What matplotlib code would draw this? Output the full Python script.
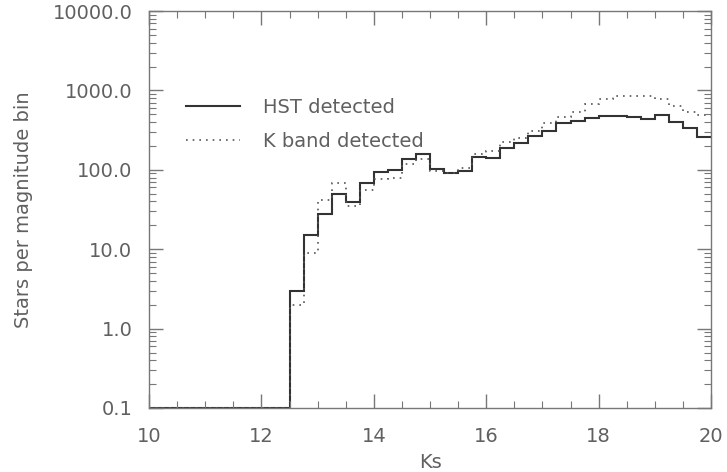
import numpy as np
import matplotlib
matplotlib.use("Agg")
import matplotlib.pyplot as plt
from matplotlib.ticker import FixedLocator, LogLocator, NullFormatter, MultipleLocator

# Bin edges (Ks magnitude, 0.25 mag bins from 10 to 20)
bin_edges = np.arange(10.0, 20.0001, 0.25)

# Stars per magnitude bin (floor 0.1 where empty)
hst_counts = [0.1] * 10 + [
    3, 15, 28, 50, 39, 68, 94, 100, 137, 158,
    102, 92, 97, 146, 140, 187, 216, 269, 311, 392,
    410, 453, 478, 476, 459, 440, 490, 396, 333, 261,
]
kband_counts = [0.1] * 10 + [
    2, 9, 42, 69, 35, 55, 76, 80, 117, 135,
    97, 90, 106, 158, 174, 222, 249, 311, 392, 459,
    530, 669, 773, 850, 857, 857, 780, 643, 530, 494,
]

x_ticks = [10, 12, 14, 16, 18, 20]
y_ticks = [0.1, 1, 10, 100, 1000, 10000]
y_ticklabels = ["0.1", "1.0", "10.0", "100.0", "1000.0", "10000.0"]
legend_labels = ["HST detected", "K band detected"]

text_color = "#606060"
axis_color = "#777777"

fig = plt.figure(figsize=(7.27, 4.72), dpi=100)
ax = fig.add_axes([0.205, 0.1356, 0.773, 0.841])

ax.stairs(hst_counts, bin_edges, baseline=None, color="#333333", linewidth=1.5,
          label=legend_labels[0])
ax.stairs(kband_counts, bin_edges, baseline=None, color="#555555", linewidth=1.2,
          linestyle=(0, (1, 3)), label=legend_labels[1])

ax.set_yscale("log")
ax.set_xlim(10, 20)
ax.set_ylim(0.1, 10000)

ax.xaxis.set_major_locator(FixedLocator(x_ticks))
ax.xaxis.set_minor_locator(MultipleLocator(0.5))
ax.set_xticklabels([str(t) for t in x_ticks])
ax.yaxis.set_major_locator(FixedLocator(y_ticks))
ax.set_yticklabels(y_ticklabels)
ax.yaxis.set_minor_locator(LogLocator(base=10, subs=np.arange(2, 10)))
ax.yaxis.set_minor_formatter(NullFormatter())

ax.tick_params(which="both", direction="in", top=True, right=True,
               color=axis_color, labelcolor=text_color, labelsize=14)
ax.tick_params(which="major", length=10, width=1)
ax.tick_params(which="minor", length=5, width=0.8)
ax.tick_params(axis="x", which="major", pad=14)
ax.tick_params(axis="y", which="major", pad=12)

for s in ax.spines.values():
    s.set_color(axis_color)
    s.set_linewidth(1.0)

ax.set_xlabel("Ks", fontsize=14, color=text_color, labelpad=5)
ax.set_ylabel("Stars per magnitude bin", fontsize=14, color=text_color, labelpad=14)

leg = ax.legend(loc="upper left", bbox_to_anchor=(0.035, 0.825), frameon=False,
                fontsize=14, handlelength=2.75, handletextpad=1.2,
                labelspacing=0.76, labelcolor=text_color)

fig.savefig("out.png", dpi=100)
